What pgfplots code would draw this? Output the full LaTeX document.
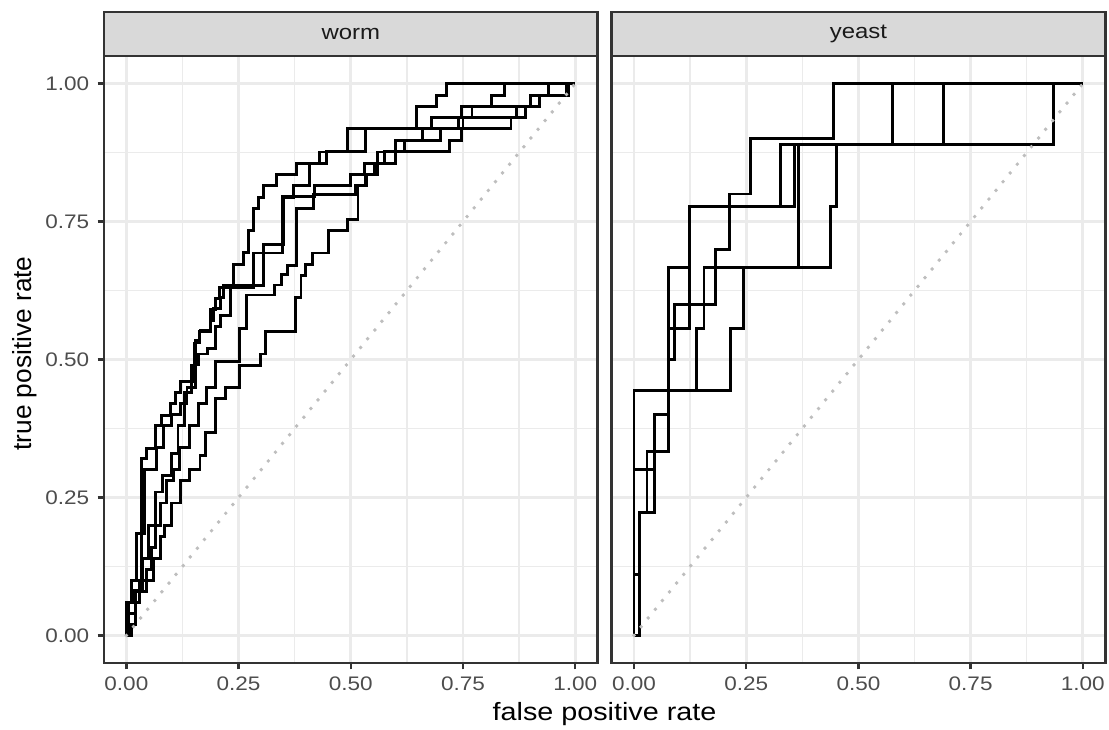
\documentclass[border=0pt]{standalone}
\usepackage{fontspec}
\setmainfont{Liberation Sans}
\usepackage{pgfplots}
\pgfplotsset{compat=1.18}

\definecolor{grey10}{HTML}{1A1A1A}
\definecolor{grey20}{HTML}{333333}
\definecolor{grey30}{HTML}{4D4D4D}
\definecolor{grey85}{HTML}{D9D9D9}
\definecolor{grey92}{HTML}{EBEBEB}
\definecolor{diaggrey}{HTML}{BEBEBE}

\tikzset{strip/.style={grey20, fill=grey85, line width=1.2pt}}

\pgfplotsset{
  rocpanel/.style={
    scale only axis, width=237pt, height=291.4pt,
    xmin=-0.05, xmax=1.05, ymin=-0.05, ymax=1.05,
    xtick={0,0.25,0.5,0.75,1}, ytick={0,0.25,0.5,0.75,1},
    xticklabels={0.00,0.25,0.50,0.75,1.00},
    yticklabels={0.00,0.25,0.50,0.75,1.00},
    minor xtick={0.125,0.375,0.625,0.875},
    minor ytick={0.125,0.375,0.625,0.875},
    grid=both,
    major grid style={grey92, line width=1.3pt},
    minor grid style={grey92, line width=0.65pt},
    axis line style={grey20, line width=1.2pt},
    xtick pos=bottom, ytick pos=left,
    tick align=outside, major tick length=3pt, minor tick length=0pt,
    tick style={grey20, line width=1.2pt},
    tick label style={font=\fontsize{9.4}{11}\selectfont, text=grey30, xscale=1.15},
    clip=false,
  },
  roc/.style={const plot, black, line width=1.4pt, line join=miter},
  diag/.style={diaggrey, line width=1.9pt, line cap=round, dash pattern=on 0pt off 5.4pt},
}

\begin{document}
\begin{tikzpicture}
\useasboundingbox (0,0) rectangle (532.4pt,350.4pt);

% ---- worm ----
\begin{axis}[rocpanel, at={(49.9pt,32.1pt)}, anchor=south west]
  \addplot[roc] coordinates {(0,0) (0,0.06) (0.019,0.082) (0.033,0.32) (0.045,0.338)
    (0.065,0.38) (0.078,0.398) (0.099,0.42) (0.11,0.44) (0.121,0.46) (0.151,0.53)
    (0.163,0.55) (0.187,0.59) (0.198,0.61) (0.207,0.63) (0.238,0.673) (0.26,0.694)
    (0.272,0.733) (0.283,0.774) (0.294,0.794) (0.305,0.815) (0.335,0.836) (0.379,0.856)
    (0.43,0.876) (0.493,0.918) (0.647,0.959) (0.69,0.979) (0.714,1) (1,1)};
  \addplot[roc] coordinates {(0,0) (0.005,0.06) (0.012,0.10) (0.023,0.184) (0.04,0.3)
    (0.068,0.34) (0.082,0.38) (0.1,0.40) (0.12,0.42) (0.135,0.45) (0.153,0.534)
    (0.164,0.552) (0.187,0.57) (0.194,0.592) (0.209,0.613) (0.216,0.634) (0.305,0.709)
    (0.35,0.794) (0.372,0.815) (0.407,0.856) (0.446,0.877) (0.533,0.918) (0.68,0.938)
    (0.746,0.959) (0.813,0.979) (0.842,1) (1,1)};
  \addplot[roc] coordinates {(0,0) (0.005,0.04) (0.02,0.08) (0.035,0.14) (0.05,0.2)
    (0.065,0.26) (0.08,0.29) (0.1,0.33) (0.115,0.38) (0.13,0.44) (0.145,0.49)
    (0.16,0.51) (0.18,0.52) (0.198,0.56) (0.21,0.58) (0.231,0.63) (0.283,0.693)
    (0.348,0.795) (0.42,0.815) (0.5,0.836) (0.53,0.856) (0.56,0.876) (0.6,0.897)
    (0.66,0.918) (0.75,0.938) (0.87,0.959) (0.92,0.979) (0.94,1) (1,1)};
  \addplot[roc] coordinates {(0,0) (0.01,0.02) (0.02,0.06) (0.03,0.1) (0.045,0.12)
    (0.055,0.16) (0.065,0.2) (0.075,0.24) (0.09,0.28) (0.105,0.3) (0.118,0.34)
    (0.14,0.38) (0.16,0.42) (0.178,0.45) (0.198,0.497) (0.253,0.557) (0.267,0.617)
    (0.331,0.635) (0.345,0.654) (0.36,0.67) (0.379,0.774) (0.416,0.799) (0.51,0.815)
    (0.533,0.836) (0.553,0.856) (0.575,0.877) (0.62,0.897) (0.7,0.918) (0.74,0.938)
    (0.77,0.959) (0.9,0.979) (0.98,1) (1,1)};
  \addplot[roc] coordinates {(0,0) (0.012,0.02) (0.02,0.06) (0.03,0.08) (0.045,0.1)
    (0.06,0.14) (0.075,0.18) (0.085,0.2) (0.1,0.24) (0.12,0.28) (0.14,0.3)
    (0.164,0.326) (0.176,0.367) (0.198,0.429) (0.22,0.449) (0.253,0.489) (0.298,0.51)
    (0.309,0.551) (0.376,0.613) (0.389,0.652) (0.40,0.672) (0.415,0.693) (0.45,0.733)
    (0.493,0.754) (0.516,0.815) (0.535,0.836) (0.56,0.856) (0.6,0.877) (0.72,0.897)
    (0.746,0.918) (0.857,0.938) (0.89,0.959) (0.9,0.979) (0.986,1) (1,1)};
  \addplot[diag] coordinates {(0,0) (1,1)};
  \draw[strip] (rel axis cs:0,1) rectangle (rel axis cs:1,1.0724);
  \node[font=\fontsize{10}{12}\selectfont, text=grey10, xscale=1.15] at (rel axis cs:0.5,1.0362) {worm};
\end{axis}

% ---- yeast ----
\begin{axis}[rocpanel, at={(293.6pt,32.1pt)}, anchor=south west,
    yticklabels={}, ytick style={draw=none}]
  \addplot[roc] coordinates {(0,0) (0,0.3) (0.046,0.4) (0.076,0.5) (0.091,0.6)
    (0.182,0.7) (0.213,0.8) (0.26,0.9) (0.444,1) (1,1)};
  \addplot[roc] coordinates {(0,0) (0,0.444) (0.139,0.556) (0.156,0.667) (0.366,0.889)
    (0.576,1) (1,1)};
  \addplot[roc] coordinates {(0,0) (0,0.111) (0.013,0.222) (0.046,0.333) (0.076,0.667)
    (0.124,0.778) (0.358,0.889) (0.935,1) (1,1)};
  \addplot[roc] coordinates {(0,0) (0.013,0.222) (0.029,0.333) (0.076,0.556)
    (0.124,0.778) (0.326,0.889) (0.69,1) (1,1)};
  \addplot[roc] coordinates {(0,0) (0,0.444) (0.215,0.556) (0.244,0.667) (0.437,0.778)
    (0.451,0.889) (0.576,1) (1,1)};
  \addplot[diag] coordinates {(0,0) (1,1)};
  \draw[strip] (rel axis cs:0,1) rectangle (rel axis cs:1,1.0724);
  \node[font=\fontsize{10}{12}\selectfont, text=grey10, xscale=1.15] at (rel axis cs:0.5,1.0362) {yeast};
\end{axis}

\node[font=\fontsize{12}{14}\selectfont, xscale=1.15] at (290.2pt,7.6pt) {false positive rate};
\node[font=\fontsize{12.6}{14}\selectfont, rotate=90] at (12pt,180.7pt) {true positive rate};
\end{tikzpicture}
\end{document}
